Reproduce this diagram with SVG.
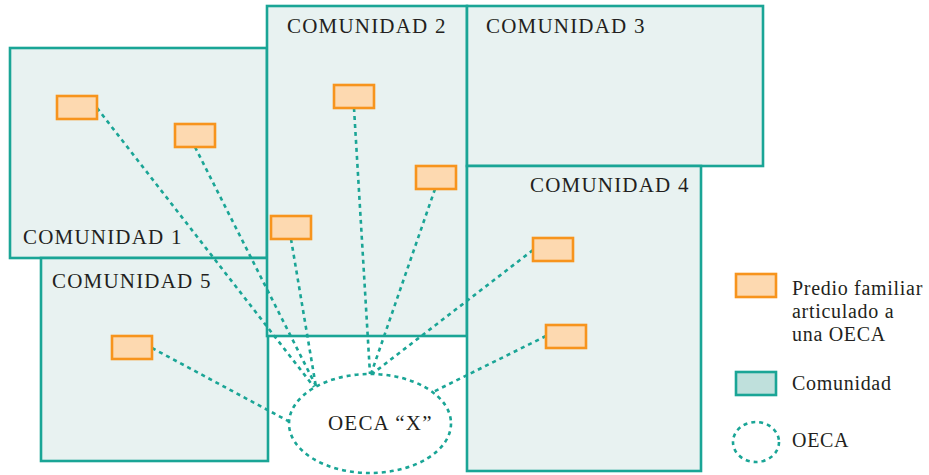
<svg xmlns="http://www.w3.org/2000/svg" width="929" height="475" viewBox="0 0 929 475">
  <style>
    .com { fill: #e8f2f1; stroke: #1aa596; stroke-width: 2.6; }
    .predio { fill: #fdd9b0; stroke: #f7941d; stroke-width: 2.6; }
    .link { fill: none; stroke: #1aa596; stroke-width: 2.6; stroke-dasharray: 4 4; }
    .oeca { fill: #ffffff; stroke: #1aa596; stroke-width: 2.6; stroke-dasharray: 4 4; }
    .lbl { font-family: "Liberation Serif", "Times New Roman", serif; font-size: 21px; fill: #231f20; letter-spacing: 1.2px; }
    .leg { font-family: "Liberation Serif", "Times New Roman", serif; font-size: 20px; fill: #231f20; letter-spacing: 0.7px; }
  </style>

  <!-- communities -->
  <g id="comunidad1"><rect class="com" x="10" y="48" width="257" height="210"/></g>
  <g id="comunidad5"><rect class="com" x="41" y="258" width="227" height="203"/></g>
  <g id="comunidad2"><rect class="com" x="267" y="6" width="200" height="330"/></g>
  <g id="comunidad3"><rect class="com" x="467" y="6" width="296" height="160"/></g>
  <g id="comunidad4"><rect class="com" x="467" y="166" width="234" height="305"/></g>

  <!-- connectors from each family plot to the OECA -->
  <g id="connectors">
    <line class="link" x1="97" y1="108" x2="314" y2="387"/>
    <line class="link" x1="195" y1="147" x2="316" y2="386"/>
    <line class="link" x1="291" y1="239" x2="316" y2="387"/>
    <line class="link" x1="354" y1="108" x2="370" y2="374"/>
    <line class="link" x1="435" y1="189" x2="371" y2="374"/>
    <line class="link" x1="533" y1="250" x2="372" y2="374"/>
    <line class="link" x1="546" y1="336" x2="431" y2="393"/>
    <line class="link" x1="152" y1="348" x2="290" y2="422"/>
  </g>

  <!-- family plots -->
  <g id="predio1"><rect class="predio" x="57" y="96" width="40" height="23"/></g>
  <g id="predio2"><rect class="predio" x="175" y="124" width="40" height="23"/></g>
  <g id="predio3"><rect class="predio" x="334" y="85" width="40" height="23"/></g>
  <g id="predio4"><rect class="predio" x="416" y="166" width="40" height="23"/></g>
  <g id="predio5"><rect class="predio" x="271" y="216" width="40" height="23"/></g>
  <g id="predio6"><rect class="predio" x="533" y="238" width="40" height="23"/></g>
  <g id="predio7"><rect class="predio" x="546" y="325" width="40" height="23"/></g>
  <g id="predio8"><rect class="predio" x="112" y="336" width="40" height="23"/></g>

  <!-- OECA -->
  <g id="oeca-x">
    <ellipse class="oeca" cx="370" cy="423.5" rx="81" ry="49.5"/>
    <text class="lbl" x="328" y="430">OECA “X”</text>
  </g>

  <!-- community labels -->
  <g id="labels">
    <text class="lbl" x="23" y="244">COMUNIDAD 1</text>
    <text class="lbl" x="287" y="33">COMUNIDAD 2</text>
    <text class="lbl" x="486" y="33">COMUNIDAD 3</text>
    <text class="lbl" x="530" y="192">COMUNIDAD 4</text>
    <text class="lbl" x="52" y="288">COMUNIDAD 5</text>
  </g>

  <!-- legend -->
  <g id="legend">
    <rect class="predio" x="736" y="274" width="40" height="23"/>
    <text class="leg" x="792" y="295">Predio familiar</text>
    <text class="leg" x="792" y="318">articulado a</text>
    <text class="leg" x="792" y="341">una OECA</text>
    <rect x="736" y="372" width="40" height="23" fill="#bfe0dc" stroke="#1aa596" stroke-width="2.6"/>
    <text class="leg" x="792" y="390">Comunidad</text>
    <ellipse class="oeca" cx="756" cy="442" rx="23" ry="20"/>
    <text class="leg" x="792" y="447">OECA</text>
  </g>
</svg>
